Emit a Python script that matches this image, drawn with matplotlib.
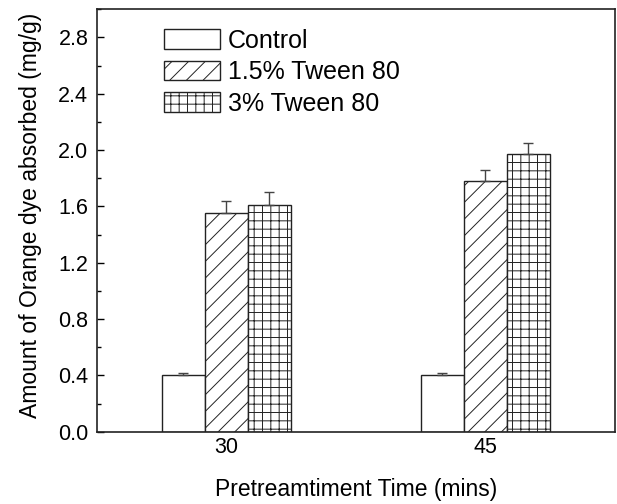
import numpy as np
import matplotlib

matplotlib.use("Agg")
import matplotlib.pyplot as plt
from matplotlib.ticker import MultipleLocator, FormatStrFormatter

# data
groups = ["30", "45"]
series = ["Control", "1.5% Tween 80", "3% Tween 80"]
means = [
    [0.40, 0.40],   # Control
    [1.55, 1.78],   # 1.5% Tween 80
    [1.61, 1.97],   # 3% Tween 80
]
errs = [
    [0.02, 0.02],
    [0.09, 0.08],
    [0.09, 0.08],
]
hatches = ["", "//", "++"]

plt.rcParams.update({
    "font.family": ["Liberation Sans", "DejaVu Sans"],
    "font.size": 15.5,
    "hatch.linewidth": 0.7,
    "hatch.color": "#333333",
})

fig = plt.figure(figsize=(6.17, 5.04), dpi=100)
ax = fig.add_axes([0.1567, 0.1435, 0.9968 - 0.1567, 0.9815 - 0.1435])

x = np.arange(len(groups))
w = 0.166
for i, (name, m, e, h) in enumerate(zip(series, means, errs, hatches)):
    pos = x + (i - 1) * w
    ax.bar(pos, m, width=w, color="white", edgecolor="#222222", linewidth=1.0,
           hatch=h, label=name, zorder=2)
    ax.errorbar(pos, m, yerr=[np.zeros(len(e)), e], fmt="none", ecolor="#444444",
                elinewidth=1.0, capsize=3.5, capthick=1.0, zorder=3)

ax.set_xlim(-0.5, 1.5)
ax.set_ylim(0, 3.0)
ax.set_xticks(x)
ax.set_xticklabels(groups)
ax.yaxis.set_major_locator(MultipleLocator(0.4))
ax.yaxis.set_minor_locator(MultipleLocator(0.2))
ax.yaxis.set_major_formatter(FormatStrFormatter("%.1f"))
ax.tick_params(axis="y", which="major", direction="in", length=5, width=1.0, pad=6)
ax.tick_params(axis="y", which="minor", direction="in", length=3, width=1.0)
ax.tick_params(axis="x", length=0, pad=4)
for sp in ax.spines.values():
    sp.set_linewidth(1.2)
    sp.set_color("#222222")

ax.set_xlabel("Pretreamtiment Time (mins)", fontsize=16.5, labelpad=14)
ax.set_ylabel("Amount of Orange dye absorbed (mg/g)", fontsize=16.5)
ax.yaxis.set_label_coords(-0.105, 0.512)

ax.legend(loc="upper left", bbox_to_anchor=(0.11, 0.978), frameon=False,
          fontsize=18, handlelength=2.24, handleheight=0.84, handletextpad=0.32,
          labelspacing=0.3, borderaxespad=0)

fig.savefig("out.png", dpi=100)
